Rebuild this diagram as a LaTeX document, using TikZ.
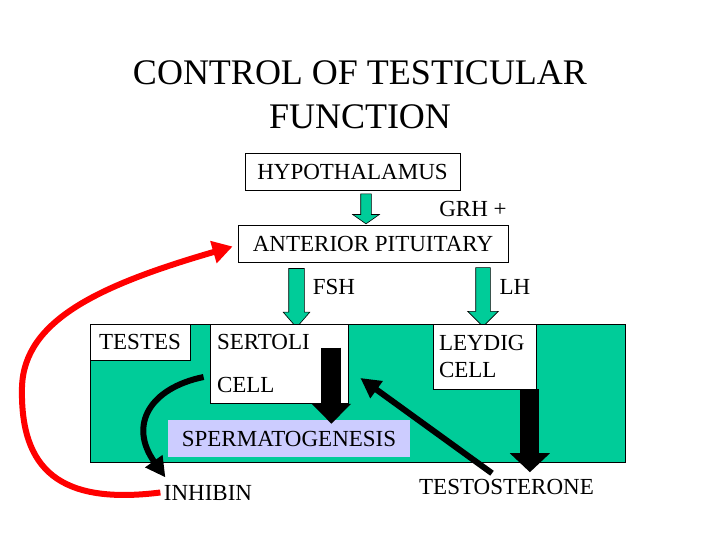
\documentclass[tikz,border=0pt]{standalone}
\usepackage{fontspec}
\setmainfont{Liberation Serif}
\usetikzlibrary{arrows.meta,shapes.arrows,calc}
\definecolor{testisgreen}{RGB}{0,204,153}
\definecolor{spermblue}{RGB}{204,204,255}
\begin{document}
\begin{tikzpicture}[x=1pt,y=-1pt,font=\fontsize{23}{27}\selectfont,>=Latex,
 box/.style={draw,fill=white,line width=0.8pt},
 hormone/.style={draw,fill=testisgreen,single arrow,rotate=-90,inner xsep=0pt,line width=0.6pt},
 fat/.style={line width=20pt,-{Triangle[width=38pt,length=20pt]}},
 signal/.style={line width=6pt,-{Triangle[width=20pt,length=20pt]}},
 feedback/.style={red,line width=6pt,-{Triangle[width=22pt,length=20pt]}}]
\useasboundingbox (0,0) rectangle (720,540);
\node[font=\fontsize{36}{44}\selectfont,align=center] (title) at (360,95) {CONTROL OF TESTICULAR\\FUNCTION};
\node[box,minimum width=215pt,minimum height=37pt] (hyp) at (352.5,171.5) {HYPOTHALAMUS};
\node (grh) at (473,208.5) {GRH +};
\node[box,minimum width=270pt,minimum height=37pt] (ant) at (373,243.5) {ANTERIOR PITUITARY};
\node[hormone,inner ysep=5pt,minimum height=30pt,single arrow head extend=8pt,single arrow tip angle=110] (hyparrow) at (366,207) {};
\node[hormone,inner ysep=7.5pt,minimum height=59pt,single arrow head extend=5.5pt,single arrow tip angle=82] (fsharrow) at (296.5,293.5) {};
\node[hormone,inner ysep=7pt,minimum height=59pt,single arrow head extend=8pt,single arrow tip angle=90] (lharrow) at (483,293.5) {};
\node (fsh) at (334,287) {FSH};
\node (lh) at (515,287) {LH};
% the testis
\node[box,fill=testisgreen,minimum width=535pt,minimum height=138pt] (testis) at (357.5,393) {};
\node[box,minimum width=100pt,minimum height=36pt] (testes) at (140,342) {TESTES};
\node[box,font=\fontsize{23}{43}\selectfont,text width=124pt,inner xsep=7pt,align=left,minimum height=79pt] (sertoli) at (279,363.5) {SERTOLI\\CELL};
\node[box,font=\fontsize{23}{27}\selectfont,text width=91pt,inner xsep=6pt,align=left,minimum height=65pt] (leydig) at (484.5,356.5) {LEYDIG\\CELL};
\node[draw=none,fill=spermblue,minimum width=242pt,minimum height=37pt] (sperm) at (289,438.5) {SPERMATOGENESIS};
\node (inhibin) at (208,492.5) {INHIBIN};
\node (testo) at (506.5,486.5) {TESTOSTERONE};
% block arrows
\coordinate (sertolitap) at ($(sertoli.north east)+(-17,24)$);
\coordinate (leydigtap) at ($(leydig.south east)+(-6.5,0)$);
\draw[fat] (sertolitap) -- ($(sertolitap |- sperm.north)+(0,4)$);
\draw[fat,line width=19pt,-{Triangle[width=39pt,length=19pt]}] (leydigtap) -- ($(leydigtap |- testo.north)+(0,-3)$);
\draw[signal] ($(testo.north)+(-14.5,-2)$) -- ($(sertoli.east)+(12,14.5)$);
\draw[signal] ($(sertoli.west)+(-6,13.5)$) .. controls (150,388) and (128,425) .. ($(inhibin.north west)+(5,-4)$);
\draw[feedback] (inhibin.west) .. controls (60,505) and (20,470) .. (22,387) .. controls (24,320) and (100,285) .. ($(ant.west)+(-5,3)$);
\end{tikzpicture}
\end{document}
